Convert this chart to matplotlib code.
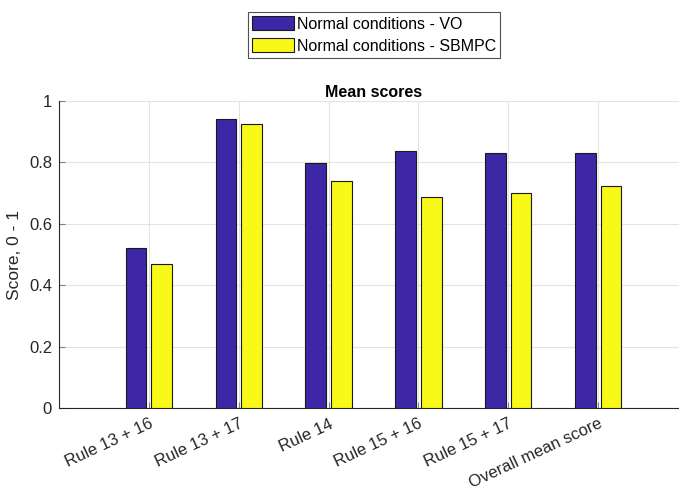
import numpy as np
import matplotlib.pyplot as plt

plt.rcParams['font.family'] = ['Liberation Sans', 'DejaVu Sans']

rules = ['Rule 13 + 16', 'Rule 13 + 17', 'Rule 14', 'Rule 15 + 16',
         'Rule 15 + 17', 'Overall mean score']
vo_scores = [0.520, 0.940, 0.797, 0.836, 0.830, 0.832]
sbmpc_scores = [0.468, 0.926, 0.739, 0.686, 0.699, 0.722]

x = np.arange(1, len(rules) + 1)
w = 0.23
off = 0.143

fig = plt.figure(figsize=(6.79, 4.87), dpi=100)
# axes runs a little past the right edge of the figure
ax = fig.add_axes([59/679, 1 - 408/487, 629/679, 307/487])

b1 = ax.bar(x - off, vo_scores, w, color='#3D27A6', edgecolor='#1a1a1a',
            linewidth=0.8, label='Normal conditions - VO', zorder=3)
b2 = ax.bar(x + off, sbmpc_scores, w, color='#F8F916', edgecolor='#1a1a1a',
            linewidth=0.8, label='Normal conditions - SBMPC', zorder=3)

ax.set_xlim(0, 7)
ax.set_ylim(0, 1)
ax.set_xticks(x)
ax.set_xticklabels(rules, rotation=25, ha='right', va='top',
                   rotation_mode='anchor', fontsize=12)
ax.set_yticks(np.arange(0, 1.01, 0.2))
ax.set_yticklabels(['0', '0.2', '0.4', '0.6', '0.8', '1'], fontsize=12)
ax.tick_params(axis='both', direction='in', length=4, color='#808080',
               labelcolor='#262626', pad=5)
ax.tick_params(axis='x', pad=6)
ax.grid(True, color='#e3e3e3', linewidth=0.8, zorder=0)
ax.set_axisbelow(True)

for s in ['top', 'right']:
    ax.spines[s].set_visible(False)
for s in ['left', 'bottom']:
    ax.spines[s].set_color('#262626')
    ax.spines[s].set_linewidth(0.8)

ax.set_title('Mean scores', fontsize=11.5, fontweight='bold', pad=3)
ax.set_ylabel('Score, 0 - 1', fontsize=12.5, color='#262626', labelpad=5)

leg = fig.legend(handles=[b1, b2], loc='upper center',
                 bbox_to_anchor=(374/679, 1 - 12/487), fontsize=11.5,
                 frameon=True, fancybox=False, edgecolor='#262626',
                 handlelength=2.65, handleheight=1.0, handletextpad=0.2,
                 borderpad=0.25, labelspacing=0.4, borderaxespad=0)
leg.get_frame().set_linewidth(0.8)

fig.savefig('out.png', dpi=100)
